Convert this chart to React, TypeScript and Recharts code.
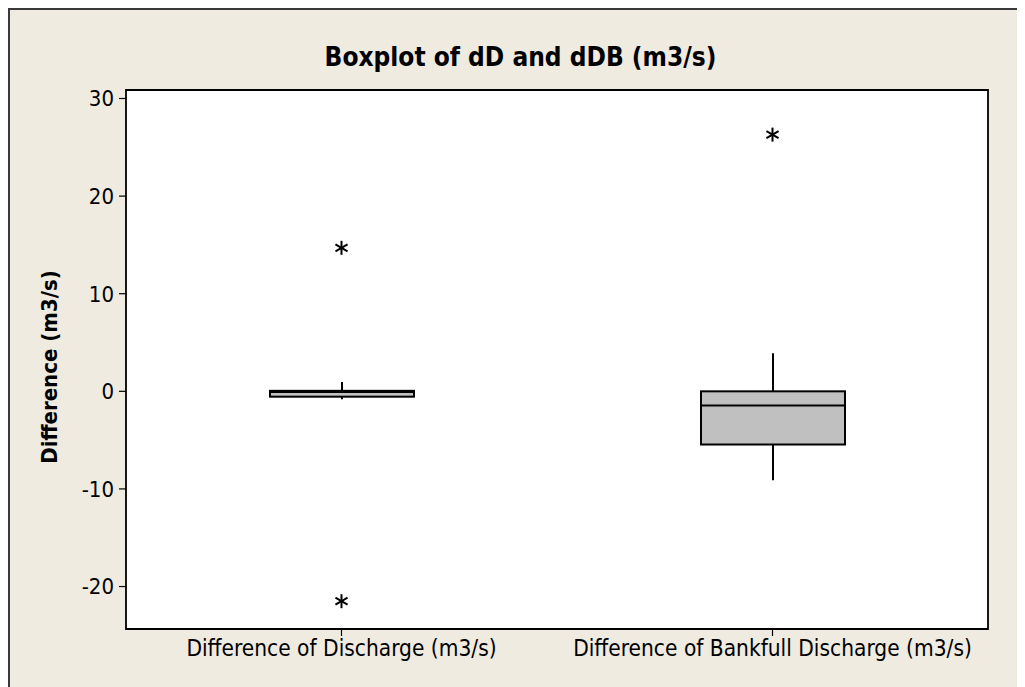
import React from "react";
import {
  ComposedChart,
  Bar,
  Scatter,
  XAxis,
  YAxis,
  CartesianGrid,
  ReferenceArea,
} from "recharts";

// Box plot summaries for each variable
const categories = [
  "Difference of Discharge (m3/s)",
  "Difference of Bankfull Discharge (m3/s)",
];
const whiskerLow = [-0.8, -9.1];
const q1 = [-0.55, -5.45];
const median = [-0.08, -1.45];
const q3 = [0.05, 0.0];
const whiskerHigh = [0.95, 3.9];
const outlierHigh = [14.7, 26.3];
const outlierLow: (number | null)[] = [-21.5, null];

const yTicks = [-20, -10, 0, 10, 20, 30];
const yDomain: [number, number] = [-24.35, 30.87];

const data = categories.map((name, i) => ({
  name,
  range: [whiskerLow[i], whiskerHigh[i]],
  low: whiskerLow[i],
  q1: q1[i],
  median: median[i],
  q3: q3[i],
  high: whiskerHigh[i],
  outHigh: outlierHigh[i],
  outLow: outlierLow[i],
}));

const FONT = "'DejaVu Sans Condensed', 'DejaVu Sans', Verdana, sans-serif";
const BG = "#EFEBE1";

// Draws whiskers, box and median inside the pixel span of the low..high range bar
const BoxShape = (props: any) => {
  const { x, y, width, height, payload } = props;
  if (payload == null || width == null) return null;
  const top = Math.min(y, y + height);
  const bottom = Math.max(y, y + height);
  const { low, high } = payload;
  const py = (v: number) => bottom - ((v - low) / (high - low)) * (bottom - top);
  const cx = x + width / 2;
  const yQ3 = py(payload.q3);
  const yQ1 = py(payload.q1);
  const yMed = py(payload.median);
  return (
    <g>
      <line x1={cx} x2={cx} y1={py(high)} y2={yQ3} stroke="#000" strokeWidth={2} />
      <line x1={cx} x2={cx} y1={yQ1} y2={py(low)} stroke="#000" strokeWidth={2} />
      <rect
        x={x}
        y={yQ3}
        width={width}
        height={Math.max(yQ1 - yQ3, 0.5)}
        fill="#C0C0C0"
        stroke="#000"
        strokeWidth={2}
      />
      <line x1={x} x2={x + width} y1={yMed} y2={yMed} stroke="#000" strokeWidth={2} />
    </g>
  );
};

// Asterisk marker for outliers
const makeStar = (key: string) => (props: any) => {
  const { cx, cy, payload } = props;
  if (payload == null || payload[key] == null || cx == null || cy == null) return <g />;
  const r = 7;
  const angles = [90, 30, 150];
  return (
    <g>
      {angles.map((a) => {
        const rad = (a * Math.PI) / 180;
        const dx = Math.cos(rad) * r;
        const dy = Math.sin(rad) * r;
        return (
          <line
            key={a}
            x1={cx - dx}
            y1={cy - dy}
            x2={cx + dx}
            y2={cy + dy}
            stroke="#000"
            strokeWidth={2}
          />
        );
      })}
    </g>
  );
};

export default function App() {
  return (
    <div
      style={{
        position: "relative",
        width: 1017,
        height: 679,
        boxSizing: "border-box",
        background: BG,
        borderLeft: "2px solid #3a3a3a",
        borderTop: "2px solid #3a3a3a",
        overflow: "hidden",
      }}
    >
      <div
        style={{
          position: "absolute",
          left: 0,
          top: 31,
          width: 1021,
          lineHeight: "32px",
          textAlign: "center",
          fontFamily: FONT,
          fontWeight: "bold",
          fontSize: 26,
          color: "#000",
        }}
      >
        Boxplot of dD and dDB (m3/s)
      </div>
      <div
        style={{
          position: "absolute",
          left: 40 - 150,
          top: 357 - 13,
          width: 300,
          height: 26,
          lineHeight: "26px",
          textAlign: "center",
          transform: "rotate(-90deg)",
          fontFamily: FONT,
          fontWeight: "bold",
          fontSize: 22,
          color: "#000",
        }}
      >
        Difference (m3/s)
      </div>
      <ComposedChart
        width={1015}
        height={677}
        data={data}
        margin={{ top: 80, right: 37, bottom: 0, left: 56 }}
        barCategoryGap={0}
      >
        <CartesianGrid horizontal={false} vertical={false} fill="#FFFFFF" fillOpacity={1} />
        <XAxis
          dataKey="name"
          type="category"
          height={58}
          axisLine={false}
          tickLine={{ stroke: "#000", strokeWidth: 1.2 }}
          tickSize={7}
          tickMargin={4}
          tick={{ fill: "#000", fontSize: 22.5, fontFamily: FONT }}
          interval={0}
        />
        <YAxis
          type="number"
          domain={yDomain}
          allowDataOverflow
          ticks={yTicks}
          width={60}
          axisLine={false}
          tickLine={{ stroke: "#000", strokeWidth: 1.2 }}
          tickSize={7}
          tickMargin={5}
          tick={{ fill: "#000", fontSize: 22, fontFamily: FONT }}
        />
        <Bar
          dataKey="range"
          barSize={144}
          shape={BoxShape}
          isAnimationActive={false}
        />
        <Scatter dataKey="outHigh" shape={makeStar("outHigh")} isAnimationActive={false} />
        <Scatter dataKey="outLow" shape={makeStar("outLow")} isAnimationActive={false} />
        <ReferenceArea
          y1={yDomain[0]}
          y2={yDomain[1]}
          fill="none"
          fillOpacity={0}
          stroke="#000"
          strokeWidth={1.8}
          ifOverflow="visible"
        />
      </ComposedChart>
    </div>
  );
}
